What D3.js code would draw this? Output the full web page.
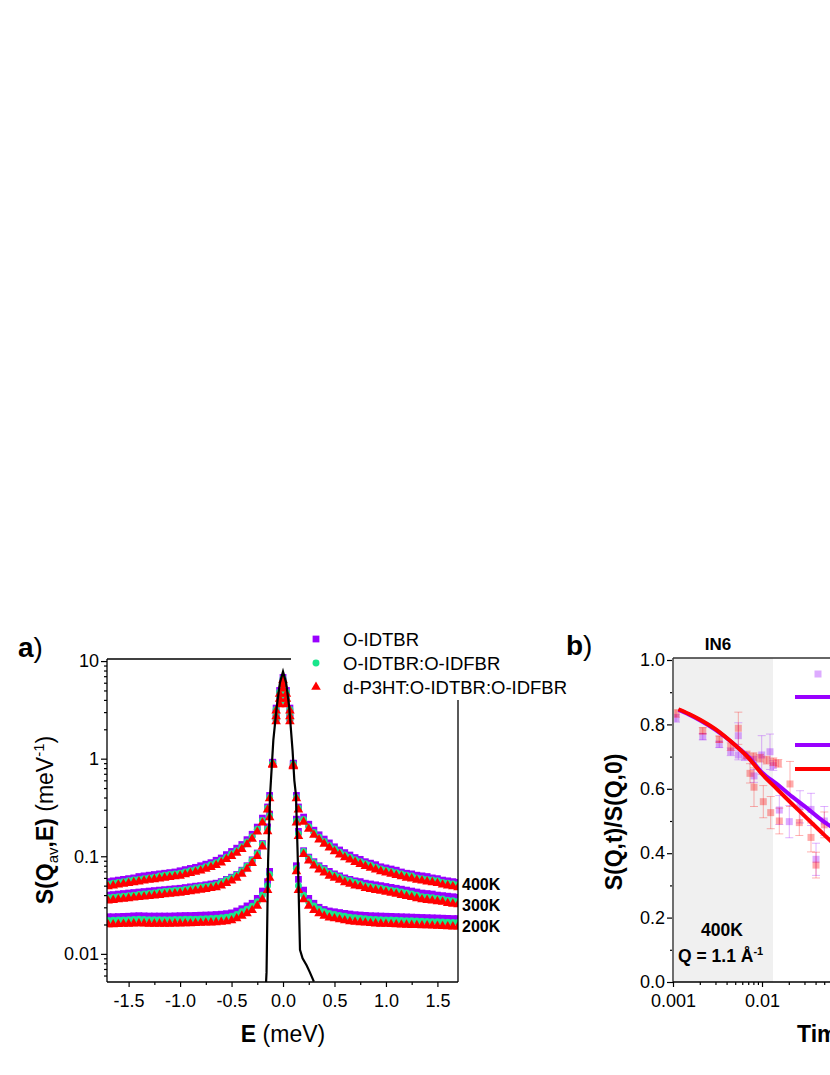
<!DOCTYPE html>
<html>
<head>
<meta charset="utf-8">
<script src="https://cdn.jsdelivr.net/npm/d3@7"></script>
<style>
  body { margin: 0; background: #fff; }
  svg { display: block; font-family: "Liberation Sans", Arial, sans-serif; }
</style>
</head>
<body>
<svg id="chart" width="830" height="1075"></svg>
<script>
'use strict';

// ---------- panel a data : S(Qav,E) ----------
var samples = ["O-IDTBR", "O-IDTBR:O-IDFBR", "d-P3HT:O-IDTBR:O-IDFBR"];
var temps = ["400K", "300K", "200K"];

var energy = [
  -1.70,-1.65,-1.60,-1.55,-1.50,-1.45,-1.40,-1.35,-1.30,-1.25,
  -1.20,-1.15,-1.10,-1.05,-1.00,-0.95,-0.90,-0.85,-0.80,-0.75,
  -0.70,-0.65,-0.60,-0.55,-0.50,-0.45,-0.40,-0.35,-0.30,-0.25,
  -0.20,
  -0.15,-0.13,-0.10,-0.067,-0.033,0,0.033,0.067,0.10,0.13,0.15,
  0.20,0.25,0.30,0.35,0.40,0.45,0.50,0.55,0.60,0.65,
  0.70,0.75,0.80,0.85,0.90,0.95,1.00,1.05,1.10,1.15,
  1.20,1.25,1.30,1.35,1.40,1.45,1.50,1.55,1.60,1.65,
  1.70
];

// O-IDTBR (purple)
var p400 = [
  0.055,0.056,0.057,0.058,0.059,0.060,0.062,0.063,0.064,0.065,
  0.066,0.067,0.068,0.069,0.071,0.073,0.075,0.077,0.080,0.083,
  0.086,0.091,0.096,0.104,0.112,0.121,0.132,0.148,0.168,0.199,
  0.246,
  0.32,0.42,0.90,2.6,4.0,5.6,4.0,2.6,0.88,0.42,0.32,
  0.252,0.213,0.185,0.166,0.150,0.137,0.125,0.116,0.109,0.103,
  0.097,0.093,0.088,0.085,0.082,0.078,0.076,0.074,0.072,0.069,
  0.067,0.066,0.064,0.063,0.062,0.060,0.059,0.057,0.056,0.055,
  0.054
];
var p300 = [
  0.040,0.0405,0.041,0.0415,0.042,0.0425,0.043,0.0435,0.044,0.0445,
  0.045,0.0455,0.046,0.0465,0.047,0.0478,0.0486,0.0494,0.050,0.051,
  0.052,0.053,0.055,0.058,0.061,0.065,0.072,0.080,0.092,0.108,
  0.135,
  0.20,0.27,0.91,2.9,4.5,6.2,4.5,2.9,0.89,0.24,0.18,
  0.114,0.098,0.088,0.080,0.075,0.070,0.066,0.063,0.060,0.058,
  0.056,0.055,0.053,0.052,0.051,0.050,0.049,0.048,0.047,0.046,
  0.045,0.044,0.043,0.042,0.0415,0.041,0.040,0.0395,0.039,0.0385,
  0.038
];
var p200 = [
  0.0240,0.0240,0.0241,0.0242,0.0243,0.0245,0.0246,0.0245,0.0244,0.0244,
  0.0244,0.0244,0.0244,0.0245,0.0246,0.0247,0.0247,0.0248,0.0249,0.0250,
  0.0251,0.0253,0.0255,0.0258,0.0263,0.0275,0.0290,0.0310,0.0330,0.0370,
  0.0440,
  0.055,0.070,0.92,3.3,5.0,6.8,5.0,3.3,0.90,0.080,0.058,
  0.045,0.037,0.033,0.030,0.0285,0.0275,0.0270,0.0265,0.0260,0.0256,
  0.0252,0.0250,0.0248,0.0246,0.0245,0.0244,0.0243,0.0242,0.0241,0.0240,
  0.0239,0.0238,0.0237,0.0236,0.0235,0.0234,0.0233,0.0232,0.0231,0.0230,
  0.0230
];

// O-IDTBR:O-IDFBR (green)
var g400 = [
  0.052,0.053,0.054,0.055,0.056,0.057,0.058,0.059,0.060,0.061,
  0.063,0.064,0.065,0.066,0.067,0.069,0.071,0.073,0.075,0.078,
  0.082,0.086,0.091,0.098,0.106,0.114,0.125,0.140,0.159,0.189,
  0.233,
  0.31,0.40,0.88,2.5,3.8,5.4,3.8,2.5,0.85,0.40,0.31,
  0.238,0.201,0.175,0.157,0.142,0.129,0.119,0.110,0.103,0.098,
  0.092,0.088,0.084,0.081,0.077,0.074,0.072,0.070,0.068,0.066,
  0.064,0.063,0.060,0.059,0.058,0.057,0.056,0.054,0.053,0.052,
  0.051
];
var g300 = [
  0.0375,0.038,0.0385,0.039,0.0395,0.040,0.0405,0.041,0.0415,0.042,
  0.043,0.0435,0.044,0.0445,0.045,0.0458,0.0466,0.0475,0.0484,0.049,
  0.050,0.051,0.054,0.057,0.060,0.064,0.071,0.079,0.091,0.107,
  0.133,
  0.19,0.26,0.89,2.8,4.3,6.0,4.3,2.8,0.86,0.23,0.17,
  0.112,0.096,0.086,0.078,0.073,0.067,0.064,0.061,0.058,0.056,
  0.054,0.052,0.050,0.049,0.048,0.047,0.046,0.045,0.044,0.043,
  0.042,0.041,0.040,0.0385,0.038,0.0375,0.037,0.0365,0.0355,0.035,
  0.0345
];
var g200 = [
  0.0220,0.0221,0.0222,0.0223,0.0224,0.0225,0.0226,0.0225,0.0224,0.0224,
  0.0224,0.0224,0.0224,0.0225,0.0225,0.0226,0.0226,0.0227,0.0228,0.0229,
  0.0230,0.0232,0.0234,0.0238,0.0243,0.0254,0.0270,0.0287,0.0308,0.0342,
  0.0400,
  0.050,0.065,0.90,3.2,4.8,6.6,4.8,3.2,0.88,0.075,0.050,
  0.040,0.034,0.031,0.0287,0.0270,0.0259,0.0254,0.0248,0.0243,0.0237,
  0.0234,0.0232,0.0229,0.0227,0.0225,0.0224,0.0223,0.0222,0.0221,0.0220,
  0.0219,0.0218,0.0217,0.0216,0.0215,0.0214,0.0213,0.0212,0.0211,0.0210,
  0.0210
];

// d-P3HT:O-IDTBR:O-IDFBR (red)
var r400 = [
  0.049,0.050,0.051,0.052,0.053,0.054,0.055,0.056,0.057,0.058,
  0.059,0.060,0.061,0.062,0.063,0.065,0.067,0.069,0.071,0.074,
  0.077,0.081,0.086,0.093,0.100,0.108,0.118,0.132,0.150,0.178,
  0.220,
  0.30,0.39,0.86,2.4,3.6,5.2,3.6,2.4,0.83,0.39,0.30,
  0.225,0.190,0.165,0.148,0.134,0.122,0.112,0.104,0.097,0.092,
  0.087,0.083,0.079,0.076,0.073,0.070,0.068,0.066,0.064,0.062,
  0.060,0.059,0.057,0.056,0.055,0.054,0.053,0.051,0.050,0.049,
  0.048
];
var r300 = [
  0.035,0.0355,0.036,0.0365,0.037,0.0375,0.038,0.0385,0.039,0.0395,
  0.040,0.0405,0.041,0.0415,0.042,0.0428,0.0436,0.0444,0.0452,0.046,
  0.047,0.048,0.050,0.053,0.056,0.060,0.066,0.074,0.085,0.100,
  0.125,
  0.18,0.25,0.87,2.7,4.1,5.8,4.1,2.7,0.84,0.22,0.16,
  0.105,0.090,0.080,0.073,0.068,0.063,0.060,0.057,0.054,0.052,
  0.050,0.049,0.047,0.046,0.045,0.044,0.043,0.042,0.041,0.040,
  0.039,0.038,0.037,0.036,0.0355,0.035,0.0345,0.034,0.033,0.0325,
  0.032
];
var r200 = [
  0.0200,0.0200,0.0201,0.0202,0.0203,0.0204,0.0205,0.0204,0.0203,0.0203,
  0.0203,0.0203,0.0203,0.0204,0.0204,0.0205,0.0205,0.0206,0.0207,0.0208,
  0.0209,0.0210,0.0212,0.0215,0.0220,0.0230,0.0245,0.0260,0.0280,0.0310,
  0.0360,
  0.045,0.060,0.88,3.1,4.6,6.4,4.6,3.1,0.86,0.070,0.045,
  0.036,0.031,0.028,0.026,0.0245,0.0235,0.0230,0.0225,0.0220,0.0215,
  0.0212,0.0210,0.0208,0.0206,0.0204,0.0203,0.0202,0.0201,0.0200,0.0199,
  0.0198,0.0197,0.0196,0.0195,0.0195,0.0194,0.0193,0.0192,0.0191,0.0190,
  0.0190
];

// resolution (black line)
var resE = [-0.175,-0.16,-0.145,-0.126,-0.094,-0.061,-0.03,0,0.03,0.06,0.093,0.11,0.126,0.149,0.165,0.19,0.23,0.26,0.30];
var resI = [0.003,0.0065,0.088,0.42,1.55,3.4,6.0,7.8,6.0,3.4,1.2,0.6,0.42,0.059,0.011,0.009,0.0076,0.0065,0.0052];

var xTicksA = [-1.5, -1.0, -0.5, 0.0, 0.5, 1.0, 1.5];
var xMinorA = [-1.25, -0.75, -0.25, 0.25, 0.75, 1.25];
var yTicksA = [0.01, 0.1, 1, 10];
var yTickLabelsA = ["0.01", "0.1", "1", "10"];

// ---------- panel b data : S(Q,t)/S(Q,0) ----------
var tPurple = [0.00108,0.00216,0.00331,0.00445,0.00542,0.00542,0.00644,0.00798,0.00813,0.00992,0.0123,0.0134,0.01565,0.02026,0.02673,0.03553,0.04045,0.0501];
var sPurple = [0.819,0.762,0.738,0.715,0.765,0.705,0.700,0.689,0.640,0.705,0.715,0.672,0.534,0.498,0.544,0.536,0.381,0.500];
var ePurple = [0.012,0.010,0.010,0.012,0.040,0.015,0.012,0.012,0.020,0.060,0.055,0.015,0.045,0.050,0.050,0.050,0.050,0.045];

var tRed = [0.00108,0.00216,0.00331,0.00445,0.00542,0.00673,0.00733,0.00798,0.00813,0.0095,0.01034,0.0113,0.01253,0.0134,0.01524,0.01565,0.02064,0.02625,0.03553,0.04045,0.0501];
var sRed = [0.834,0.780,0.754,0.731,0.788,0.705,0.648,0.700,0.605,0.695,0.560,0.689,0.526,0.684,0.679,0.500,0.615,0.495,0.449,0.363,0.488];
var eRed = [0.012,0.010,0.010,0.012,0.050,0.012,0.030,0.012,0.060,0.012,0.050,0.012,0.050,0.012,0.012,0.040,0.070,0.040,0.045,0.040,0.040];

var tFit = [0.00115,0.0015,0.002,0.003,0.005,0.007,0.01,0.015,0.02,0.03,0.05,0.07];
var fitPurple = [0.845,0.831,0.813,0.783,0.736,0.700,0.651,0.613,0.584,0.546,0.497,0.470];
var fitRed = [0.847,0.833,0.815,0.785,0.735,0.697,0.646,0.597,0.563,0.516,0.457,0.420];

var shadeEnd = 0.0133;
var xTicksB = [0.001, 0.01];
var xTickLabelsB = ["0.001", "0.01"];
var yTicksB = [0.0, 0.2, 0.4, 0.6, 0.8, 1.0];
var yMinorB = [0.1, 0.3, 0.5, 0.7, 0.9];

// ---------- drawing ----------
var svg = d3.select("#chart");
svg.append("rect").attr("width", 830).attr("height", 1075).attr("fill", "#fff");

var colors = ["#9900ff", "#19e68c", "#ff0000"];
var symbolTypes = [d3.symbolSquare, d3.symbolCircle, d3.symbolTriangle];
var symbolSizes = [46, 38, 40];

function logMinor(lo, hi) {
  var out = [];
  for (var k = -3; k <= 2; k++) {
    for (var m = 2; m <= 9; m++) {
      var v = m * Math.pow(10, k);
      if (v >= lo && v <= hi) out.push(v);
    }
  }
  return out;
}

function styleAxis(g, size) {
  g.selectAll(".domain").remove();
  g.selectAll(".tick line").attr("stroke", "#000").attr("stroke-width", 1.2);
  g.selectAll(".tick text").attr("font-size", size).attr("fill", "#000")
    .attr("font-family", "Liberation Sans, Arial, sans-serif");
}

// ===== panel a =====
var xA = d3.scaleLinear().domain([-1.71, 1.70]).range([107, 458]);
var yA = d3.scaleLog().domain([0.00515, 10.5]).range([982, 659]);

var defs = svg.append("defs");
defs.append("clipPath").attr("id", "clipA").append("rect")
  .attr("x", 107).attr("y", 659).attr("width", 351).attr("height", 323);

var seriesA = [
  { sample: 0, vals: p400 }, { sample: 0, vals: p300 }, { sample: 0, vals: p200 },
  { sample: 1, vals: g400 }, { sample: 1, vals: g300 }, { sample: 1, vals: g200 },
  { sample: 2, vals: r400 }, { sample: 2, vals: r300 }, { sample: 2, vals: r200 }
];

var plotA = svg.append("g").attr("clip-path", "url(#clipA)");
seriesA.forEach(function(s) {
  plotA.append("g").selectAll("path")
    .data(energy)
    .enter().append("path")
      .attr("transform", function(e, i) { return "translate(" + xA(e) + "," + yA(s.vals[i]) + ")"; })
      .attr("d", d3.symbol().type(symbolTypes[s.sample]).size(symbolSizes[s.sample]))
      .attr("fill", colors[s.sample]);
});

var resLine = d3.line()
  .x(function(d) { return xA(d); })
  .y(function(d, i) { return yA(resI[i]); });
plotA.append("path").datum(resE)
  .attr("d", resLine)
  .attr("fill", "none")
  .attr("stroke", "#000")
  .attr("stroke-width", 2.2);

// axes a
var axA = svg.append("g").attr("transform", "translate(0,982)")
  .call(d3.axisBottom(xA).tickValues(xTicksA).tickSize(5).tickPadding(7)
    .tickFormat(function(d) { return d.toFixed(1); }));
styleAxis(axA, 18);
var axAm = svg.append("g").attr("transform", "translate(0,982)")
  .call(d3.axisBottom(xA).tickValues(xMinorA).tickSize(3).tickFormat(""));
styleAxis(axAm, 18);

var ayA = svg.append("g").attr("transform", "translate(107,0)")
  .call(d3.axisLeft(yA).tickValues(yTicksA).tickSize(6).tickPadding(2)
    .tickFormat(function(d, i) { return yTickLabelsA[i]; }));
styleAxis(ayA, 18);
var ayAm = svg.append("g").attr("transform", "translate(107,0)")
  .call(d3.axisLeft(yA).tickValues(logMinor(0.00515, 10.5)).tickSize(3).tickFormat(""));
styleAxis(ayAm, 18);

// frame lines (top stops at legend, right starts below it)
svg.append("line").attr("x1", 107).attr("x2", 107).attr("y1", 659).attr("y2", 982).attr("stroke", "#000").attr("stroke-width", 1.3);
svg.append("line").attr("x1", 107).attr("x2", 458).attr("y1", 982).attr("y2", 982).attr("stroke", "#000").attr("stroke-width", 1.3);
svg.append("line").attr("x1", 107).attr("x2", 291).attr("y1", 659).attr("y2", 659).attr("stroke", "#000").attr("stroke-width", 1.3);
svg.append("line").attr("x1", 458).attr("x2", 458).attr("y1", 700).attr("y2", 982).attr("stroke", "#000").attr("stroke-width", 1.3);

// temperature labels
temps.forEach(function(t, i) {
  svg.append("text").attr("x", 462).attr("y", [890, 911, 932][i])
    .attr("font-size", 16).attr("font-weight", "bold").text(t);
});

// legend a
samples.forEach(function(name, i) {
  var cy = 639 + i * 24;
  svg.append("path")
    .attr("transform", "translate(316," + cy + ")")
    .attr("d", d3.symbol().type(symbolTypes[i]).size(symbolSizes[i]))
    .attr("fill", colors[i]);
  svg.append("text").attr("x", 343).attr("y", cy + 7)
    .attr("font-size", 18.5).text(name);
});

// labels a
var la = svg.append("text").attr("x", 18).attr("y", 657).attr("font-size", 28);
la.append("tspan").attr("font-weight", "bold").text("a");
la.append("tspan").text(")");

var xlA = svg.append("text").attr("x", 283).attr("y", 1042)
  .attr("text-anchor", "middle").attr("font-size", 23);
xlA.append("tspan").attr("font-weight", "bold").text("E");
xlA.append("tspan").text(" (meV)");

var ylA = svg.append("text").attr("transform", "translate(53,820) rotate(-90)")
  .attr("text-anchor", "middle").attr("font-size", 23);
ylA.append("tspan").attr("font-weight", "bold").text("S(Q");
ylA.append("tspan").attr("font-size", 15).attr("dy", 5).text("av");
ylA.append("tspan").attr("font-weight", "bold").attr("dy", -5).text(",E)");
ylA.append("tspan").text(" (meV");
ylA.append("tspan").attr("font-size", 15).attr("dy", -9).text("-1");
ylA.append("tspan").attr("dy", 9).text(")");

// ===== panel b =====
var xB = d3.scaleLog().domain([0.001, 1]).range([673, 940]);
var yB = d3.scaleLinear().domain([0, 1]).range([982, 660]);

svg.append("rect")
  .attr("x", xB(0.001)).attr("y", 658)
  .attr("width", xB(shadeEnd) - xB(0.001)).attr("height", 982 - 658)
  .attr("fill", "#f0f0f0");

function drawData(ts, ss, es, color) {
  var g = svg.append("g");
  g.selectAll("line.err").data(ts).enter().append("line")
    .attr("x1", function(d) { return xB(d); }).attr("x2", function(d) { return xB(d); })
    .attr("y1", function(d, i) { return yB(ss[i] - es[i]); })
    .attr("y2", function(d, i) { return yB(ss[i] + es[i]); })
    .attr("stroke", color).attr("stroke-opacity", 0.3).attr("stroke-width", 1);
  [1, -1].forEach(function(sg) {
    g.selectAll("line.cap" + sg).data(ts).enter().append("line")
      .attr("x1", function(d) { return xB(d) - 4; }).attr("x2", function(d) { return xB(d) + 4; })
      .attr("y1", function(d, i) { return yB(ss[i] + sg * es[i]); })
      .attr("y2", function(d, i) { return yB(ss[i] + sg * es[i]); })
      .attr("stroke", color).attr("stroke-opacity", 0.3).attr("stroke-width", 1);
  });
  g.selectAll("rect").data(ts).enter().append("rect")
    .attr("x", function(d) { return xB(d) - 3.5; })
    .attr("y", function(d, i) { return yB(ss[i]) - 3.5; })
    .attr("width", 7).attr("height", 7)
    .attr("fill", color).attr("fill-opacity", 0.33);
}
drawData(tPurple, sPurple, ePurple, "#9900ff");
drawData(tRed, sRed, eRed, "#ff0000");

function fitLine(vals) {
  return d3.line().curve(d3.curveMonotoneX)
    .x(function(d) { return xB(d); })
    .y(function(d, i) { return yB(vals[i]); });
}
svg.append("path").datum(tFit).attr("d", fitLine(fitPurple))
  .attr("fill", "none").attr("stroke", "#9900ff").attr("stroke-width", 4);
svg.append("path").datum(tFit).attr("d", fitLine(fitRed))
  .attr("fill", "none").attr("stroke", "#ff0000").attr("stroke-width", 4);

// axes b
var axB = svg.append("g").attr("transform", "translate(0,982)")
  .call(d3.axisBottom(xB).tickValues(xTicksB).tickSize(5).tickPadding(7)
    .tickFormat(function(d, i) { return xTickLabelsB[i]; }));
styleAxis(axB, 18);
var axBm = svg.append("g").attr("transform", "translate(0,982)")
  .call(d3.axisBottom(xB).tickValues(logMinor(0.001, 0.1)).tickSize(3).tickFormat(""));
styleAxis(axBm, 18);

var ayB = svg.append("g").attr("transform", "translate(673,0)")
  .call(d3.axisLeft(yB).tickValues(yTicksB).tickSize(6).tickPadding(2)
    .tickFormat(function(d) { return d.toFixed(1); }));
styleAxis(ayB, 18);
var ayBm = svg.append("g").attr("transform", "translate(673,0)")
  .call(d3.axisLeft(yB).tickValues(yMinorB).tickSize(3).tickFormat(""));
styleAxis(ayBm, 18);

svg.append("line").attr("x1", 673).attr("x2", 673).attr("y1", 658).attr("y2", 982)
  .attr("stroke", "#6e6e6e").attr("stroke-width", 2);
svg.append("line").attr("x1", 673).attr("x2", 830).attr("y1", 982).attr("y2", 982)
  .attr("stroke", "#000").attr("stroke-width", 1.3);
svg.append("line").attr("x1", 673).attr("x2", 830).attr("y1", 658).attr("y2", 658)
  .attr("stroke", "#333").attr("stroke-width", 1.3);

// legend b (partly outside the picture)
svg.append("rect").attr("x", 814.5).attr("y", 670.5).attr("width", 7).attr("height", 7)
  .attr("fill", "#9900ff").attr("fill-opacity", 0.33);
[[697, "#9900ff"], [745, "#9900ff"], [769, "#ff0000"]].forEach(function(r) {
  svg.append("line").attr("x1", 795).attr("x2", 841).attr("y1", r[0]).attr("y2", r[0])
    .attr("stroke", r[1]).attr("stroke-width", 4);
});

// labels b
var lb = svg.append("text").attr("x", 566).attr("y", 655).attr("font-size", 28);
lb.append("tspan").attr("font-weight", "bold").text("b");
lb.append("tspan").text(")");

svg.append("text").attr("x", 718).attr("y", 650).attr("text-anchor", "middle")
  .attr("font-size", 17).attr("font-weight", "bold").text("IN6");
svg.append("text").attr("x", 722).attr("y", 936).attr("text-anchor", "middle")
  .attr("font-size", 17.5).attr("font-weight", "bold").text("400K");
var qt = svg.append("text").attr("x", 678).attr("y", 962)
  .attr("font-size", 17.5).attr("font-weight", "bold");
qt.append("tspan").text("Q = 1.1 \u00C5");
qt.append("tspan").attr("font-size", 11).attr("dy", -7).text("-1");

svg.append("text").attr("transform", "translate(622,822) rotate(-90)")
  .attr("text-anchor", "middle").attr("font-size", 23).attr("font-weight", "bold")
  .text("S(Q,t)/S(Q,0)");

svg.append("text").attr("x", 797).attr("y", 1042)
  .attr("font-size", 23).attr("font-weight", "bold").text("Time (ns)");
</script>
</body>
</html>
